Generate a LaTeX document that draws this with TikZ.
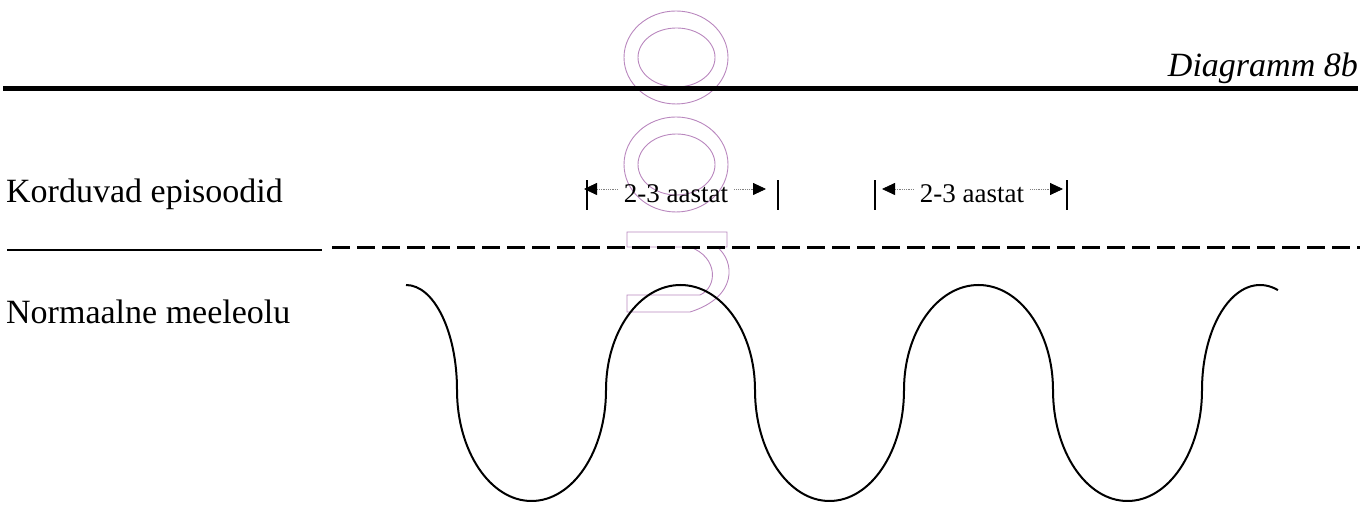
\documentclass[tikz,border=0pt]{standalone}
\usepackage{fontspec}
\setmainfont{Liberation Serif}
\usetikzlibrary{arrows.meta,positioning}
\definecolor{ghostpurple}{RGB}{185,135,190}
\tikzset{
  bigtext/.style={font=\fontsize{34}{40}\selectfont,inner sep=0pt},
  spantext/.style={font=\fontsize{27}{32}\selectfont,anchor=base,
                   inner xsep=6pt,inner ysep=0pt},
  heavyrule/.style={line width=5pt},
  solidrule/.style={line width=2pt},
  dashrule/.style={line width=3pt,dash pattern=on 18pt off 7pt},
  endbar/.style={line width=1.5pt},
  spanarrow/.style={-{Triangle[length=13pt,width=12pt,color=black]},
                    densely dotted,gray,line width=0.8pt},
  wave/.style={line width=2pt},
  ghost/.style={draw=ghostpurple,line width=0.9pt},
}

\begin{document}
\begin{tikzpicture}[x=1pt,y=1pt]
\useasboundingbox (0,0) rectangle (1370,529);
% faint outline letters
\draw[ghost] (676,471.5) ellipse[x radius=52,y radius=46.5];
\draw[ghost] (676.5,471.5) ellipse[x radius=38.5,y radius=29.5];
\draw[ghost] (676,364.5) ellipse[x radius=52,y radius=47.5];
\draw[ghost] (676.5,364.5) ellipse[x radius=38.5,y radius=30.5];
\draw[ghost] (627,297) -- (727,297) -- (727,282) -- (717,282)
  .. controls (735,268) and (738,232) .. (690,217) -- (627,217) -- (627,234)
  -- (700,234) .. controls (718,242) and (718,272) .. (690,282) -- (627,282) -- cycle;
% heading
\node[bigtext,anchor=base east] (title) at (1358,452) {\itshape Diagramm 8b};
\coordinate (ruleL) at (3,440);
\coordinate (ruleR) at (1358,440);
\draw[heavyrule] (ruleL) -- (ruleR);
% rows
\node[bigtext,anchor=base west] (episodes) at (6,326) {Korduvad episoodid};
\node[bigtext,anchor=base west] (normal) at (6,205) {Normaalne meeleolu};
\coordinate (lineL) at (7,279);
\coordinate (lineM) at (322,279);
\coordinate (dashL) at (332,281);
\coordinate (dashR) at (1360,281);
\draw[solidrule] (lineL) -- (lineM);
\draw[dashrule] (dashL) -- (dashR);
% spans
\node[spantext] (spanA) at (676,326) {2-3 aastat};
\node[spantext] (spanB) at (972,326) {2-3 aastat};
\coordinate (tipA1) at (584,340);
\coordinate (tipA2) at (766,340);
\coordinate (tipB1) at (882,340);
\coordinate (tipB2) at (1063,340);
\draw[spanarrow] (spanA.west |- tipA1) -- (tipA1);
\draw[spanarrow] (spanA.east |- tipA2) -- (tipA2);
\draw[spanarrow] (spanB.west |- tipB1) -- (tipB1);
\draw[spanarrow] (spanB.east |- tipB2) -- (tipB2);
\draw[endbar] (587,319) -- (587,349);
\draw[endbar] (778,319) -- (778,349);
\draw[endbar] (875,319) -- (875,349);
\draw[endbar] (1067,319) -- (1067,349);
% mood curve
\draw[wave] (406,244) arc[start angle=90,end angle=0,x radius=51,y radius=105]
  arc[start angle=180,end angle=360,x radius=74.5,y radius=111]
  arc[start angle=180,end angle=0,x radius=74.5,y radius=105]
  arc[start angle=180,end angle=360,x radius=74.5,y radius=111]
  arc[start angle=180,end angle=0,x radius=74.5,y radius=105]
  arc[start angle=180,end angle=360,x radius=74.5,y radius=111]
  arc[start angle=180,end angle=72,x radius=58,y radius=105];
\end{tikzpicture}
\end{document}
